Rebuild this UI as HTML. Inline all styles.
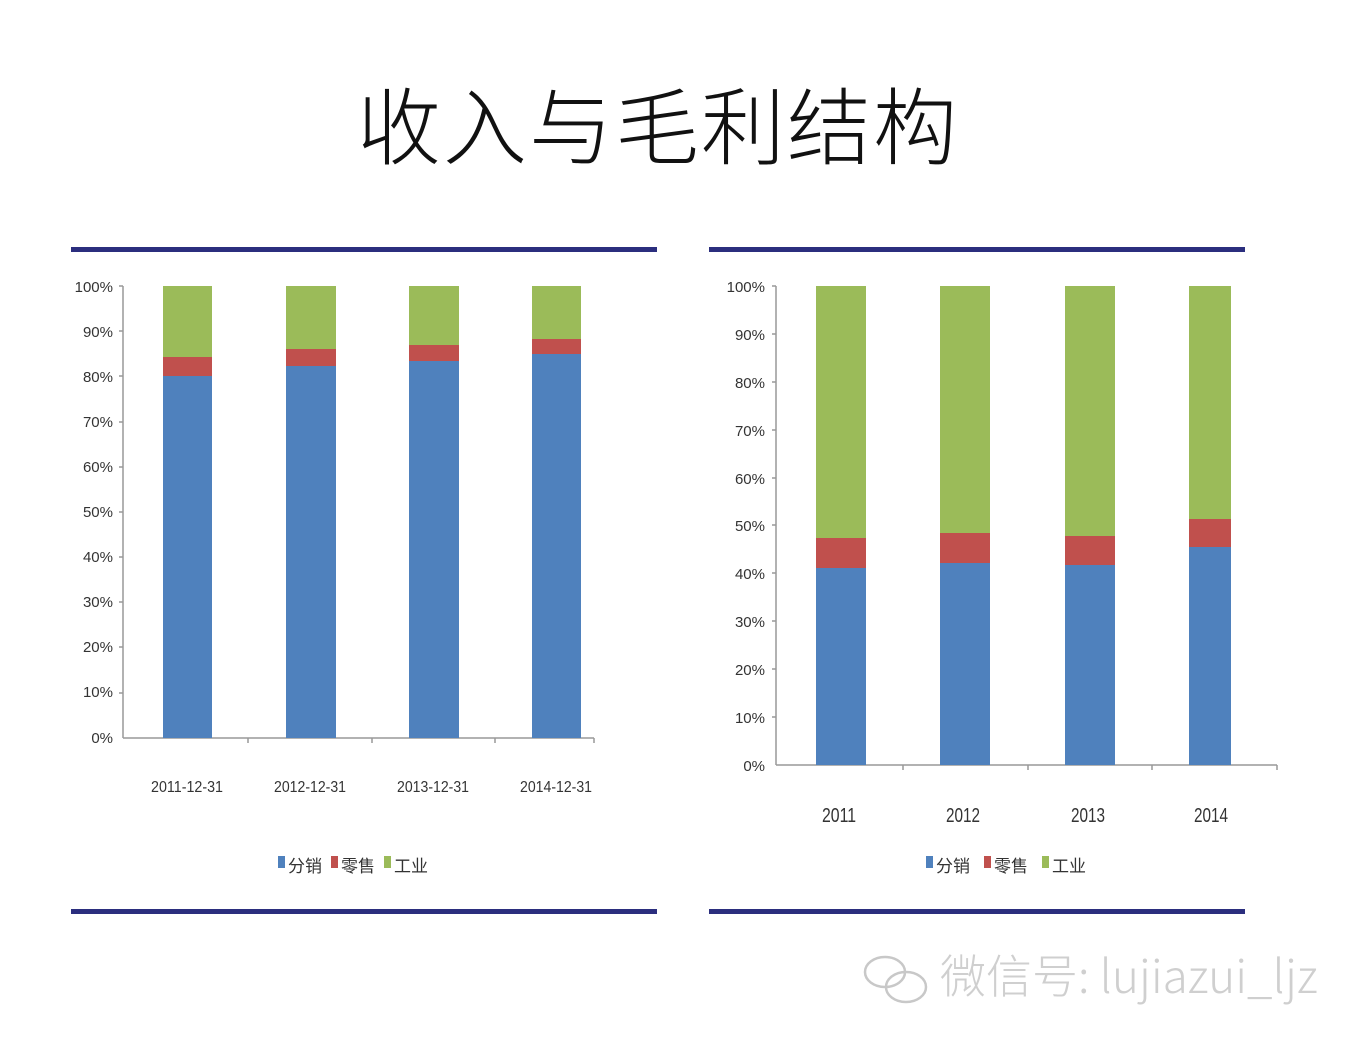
<!DOCTYPE html>
<html><head><meta charset="utf-8"><style>
html,body{margin:0;padding:0;background:#fff;}
svg{display:block;}
text{font-family:"Liberation Sans","Noto Sans CJK SC",sans-serif;}
</style></head><body>
<svg width="1358" height="1050" viewBox="0 0 1358 1050" xmlns="http://www.w3.org/2000/svg">
<rect width="1358" height="1050" fill="#fff"/>
<text x="658" y="158" font-size="84" text-anchor="middle" fill="#111" style="font-family:'Noto Sans CJK SC',sans-serif;font-weight:300" letter-spacing="2">收入与毛利结构</text>
<g fill="#2b2e7e">
<rect x="71" y="247" width="586" height="5"/>
<rect x="709" y="247" width="536" height="5"/>
<rect x="71" y="909" width="586" height="5"/>
<rect x="709" y="909" width="536" height="5"/>
</g>
<!-- left chart -->
<g font-size="15" fill="#333" text-anchor="end">
<text x="113" y="292">100%</text><text x="113" y="337">90%</text><text x="113" y="382">80%</text><text x="113" y="427">70%</text><text x="113" y="472">60%</text><text x="113" y="517">50%</text><text x="113" y="562">40%</text><text x="113" y="607">30%</text><text x="113" y="652">20%</text><text x="113" y="697">10%</text><text x="113" y="743">0%</text>
</g>
<g stroke="#999" stroke-width="1.5">
<line x1="123" y1="286" x2="123" y2="738"/><line x1="123" y1="738" x2="594" y2="738"/>
<line x1="119" y1="286" x2="123" y2="286"/><line x1="119" y1="331" x2="123" y2="331"/><line x1="119" y1="376" x2="123" y2="376"/><line x1="119" y1="422" x2="123" y2="422"/><line x1="119" y1="467" x2="123" y2="467"/><line x1="119" y1="512" x2="123" y2="512"/><line x1="119" y1="557" x2="123" y2="557"/><line x1="119" y1="602" x2="123" y2="602"/><line x1="119" y1="647" x2="123" y2="647"/><line x1="119" y1="693" x2="123" y2="693"/>
<line x1="248" y1="738" x2="248" y2="743"/><line x1="372" y1="738" x2="372" y2="743"/><line x1="495" y1="738" x2="495" y2="743"/><line x1="594" y1="738" x2="594" y2="743"/>
</g>
<g>
<rect x="163" y="286" width="49" height="71" fill="#9bbb59"/><rect x="163" y="357" width="49" height="19" fill="#c0504d"/><rect x="163" y="376" width="49" height="362" fill="#4f81bd"/>
<rect x="286" y="286" width="50" height="63" fill="#9bbb59"/><rect x="286" y="349" width="50" height="17" fill="#c0504d"/><rect x="286" y="366" width="50" height="372" fill="#4f81bd"/>
<rect x="409" y="286" width="50" height="59" fill="#9bbb59"/><rect x="409" y="345" width="50" height="16" fill="#c0504d"/><rect x="409" y="361" width="50" height="377" fill="#4f81bd"/>
<rect x="532" y="286" width="49" height="53" fill="#9bbb59"/><rect x="532" y="339" width="49" height="15" fill="#c0504d"/><rect x="532" y="354" width="49" height="384" fill="#4f81bd"/>
</g>
<g font-size="16" fill="#333" text-anchor="middle">
<text x="187" y="792" textLength="72" lengthAdjust="spacingAndGlyphs">2011-12-31</text>
<text x="310" y="792" textLength="72" lengthAdjust="spacingAndGlyphs">2012-12-31</text>
<text x="433" y="792" textLength="72" lengthAdjust="spacingAndGlyphs">2013-12-31</text>
<text x="556" y="792" textLength="72" lengthAdjust="spacingAndGlyphs">2014-12-31</text>
</g>
<g font-size="17" fill="#333">
<rect x="278" y="856" width="7" height="12" fill="#4f81bd"/><text x="288" y="872">分销</text>
<rect x="331" y="856" width="7" height="12" fill="#c0504d"/><text x="341" y="872">零售</text>
<rect x="384" y="856" width="7" height="12" fill="#9bbb59"/><text x="394" y="872">工业</text>
</g>
<!-- right chart -->
<g font-size="15" fill="#333" text-anchor="end">
<text x="765" y="292">100%</text><text x="765" y="340">90%</text><text x="765" y="388">80%</text><text x="765" y="436">70%</text><text x="765" y="484">60%</text><text x="765" y="531">50%</text><text x="765" y="579">40%</text><text x="765" y="627">30%</text><text x="765" y="675">20%</text><text x="765" y="723">10%</text><text x="765" y="771">0%</text>
</g>
<g stroke="#999" stroke-width="1.5">
<line x1="776" y1="286" x2="776" y2="765"/><line x1="776" y1="765" x2="1277" y2="765"/>
<line x1="772" y1="286" x2="776" y2="286"/><line x1="772" y1="334" x2="776" y2="334"/><line x1="772" y1="382" x2="776" y2="382"/><line x1="772" y1="430" x2="776" y2="430"/><line x1="772" y1="478" x2="776" y2="478"/><line x1="772" y1="525" x2="776" y2="525"/><line x1="772" y1="573" x2="776" y2="573"/><line x1="772" y1="621" x2="776" y2="621"/><line x1="772" y1="669" x2="776" y2="669"/><line x1="772" y1="717" x2="776" y2="717"/>
<line x1="903" y1="765" x2="903" y2="770"/><line x1="1028" y1="765" x2="1028" y2="770"/><line x1="1152" y1="765" x2="1152" y2="770"/><line x1="1277" y1="765" x2="1277" y2="770"/>
</g>
<g>
<rect x="816" y="286" width="50" height="252" fill="#9bbb59"/><rect x="816" y="538" width="50" height="30" fill="#c0504d"/><rect x="816" y="568" width="50" height="197" fill="#4f81bd"/>
<rect x="940" y="286" width="50" height="247" fill="#9bbb59"/><rect x="940" y="533" width="50" height="30" fill="#c0504d"/><rect x="940" y="563" width="50" height="202" fill="#4f81bd"/>
<rect x="1065" y="286" width="50" height="250" fill="#9bbb59"/><rect x="1065" y="536" width="50" height="29" fill="#c0504d"/><rect x="1065" y="565" width="50" height="200" fill="#4f81bd"/>
<rect x="1189" y="286" width="42" height="233" fill="#9bbb59"/><rect x="1189" y="519" width="42" height="28" fill="#c0504d"/><rect x="1189" y="547" width="42" height="218" fill="#4f81bd"/>
</g>
<g font-size="20" fill="#333" text-anchor="middle">
<text x="839" y="822" textLength="34" lengthAdjust="spacingAndGlyphs">2011</text>
<text x="963" y="822" textLength="34" lengthAdjust="spacingAndGlyphs">2012</text>
<text x="1088" y="822" textLength="34" lengthAdjust="spacingAndGlyphs">2013</text>
<text x="1211" y="822" textLength="34" lengthAdjust="spacingAndGlyphs">2014</text>
</g>
<g font-size="17" fill="#333">
<rect x="926" y="856" width="7" height="12" fill="#4f81bd"/><text x="936" y="872">分销</text>
<rect x="984" y="856" width="7" height="12" fill="#c0504d"/><text x="994" y="872">零售</text>
<rect x="1042" y="856" width="7" height="12" fill="#9bbb59"/><text x="1052" y="872">工业</text>
</g>
<!-- watermark -->
<g fill="none" stroke="#c8c8c8" stroke-width="2.5">
<ellipse cx="885" cy="972" rx="20" ry="15"/>
<ellipse cx="906" cy="987" rx="20" ry="15"/>
</g>
<text x="940" y="993" font-size="46" fill="#cfcfcf" style="font-family:'Noto Sans CJK SC',sans-serif;font-weight:300">微信号: lujiazui_ljz</text>
</svg>
</body></html>
